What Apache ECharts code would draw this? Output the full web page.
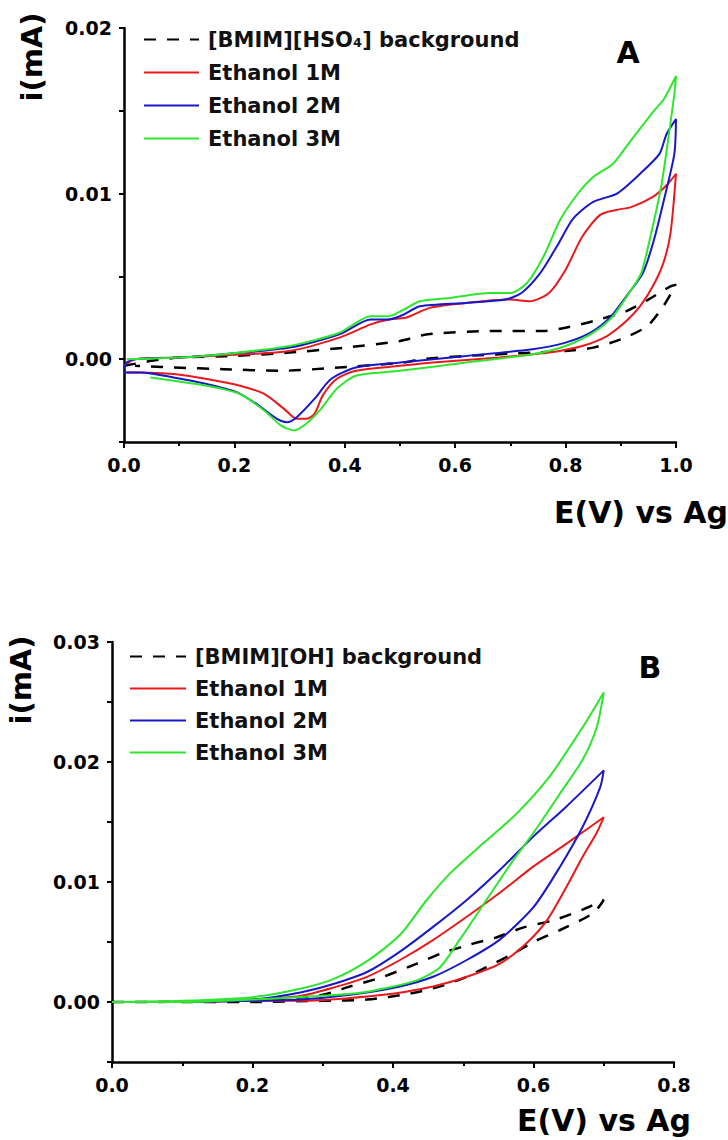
<!DOCTYPE html>
<html>
<head>
<meta charset="utf-8">
<script src="https://cdn.jsdelivr.net/npm/echarts/dist/echarts.min.js"></script>
<style>
  html, body { margin: 0; padding: 0; background: #fff; }
  #main { width: 728px; height: 1140px; }
</style>
</head>
<body>
<div id="main"></div>
<script>
// panel A : [BMIM][HSO4], E (V) vs i (mA), each array is one closed CV scan
var bgA = [[0.0,-0.0004],[0.05,-0.0001],[0.1,0.0001],[0.2,0.0002],[0.3,0.0004],[0.4,0.0007],[0.5,0.0011],[0.55,0.0015],
  [0.663,0.0017],[0.76,0.0017],[0.8,0.0019],[0.85,0.0023],[0.91,0.0029],[0.95,0.0036],[0.99,0.0044],[1.0,0.0045],
  [0.977,0.0032],[0.948,0.002],[0.9,0.0012],[0.85,0.0007],[0.8,0.0005],[0.74,0.0004],[0.62,0.0002],[0.54,0.0],
  [0.507,-0.0002],[0.39,-0.0005],[0.284,-0.0007],[0.18,-0.0006],[0.09,-0.0005],[0.02,-0.0004]];
var et1A = [[0.0,-0.0004],[0.02,0.0],[0.1,0.0001],[0.18,0.00024],[0.3,0.0005],[0.39,0.0013],[0.447,0.0021],[0.48,0.0024],
  [0.51,0.0025],[0.554,0.0031],[0.62,0.0034],[0.70,0.0036],[0.735,0.0035],[0.77,0.004],[0.80,0.0054],[0.83,0.0074],
  [0.862,0.0087],[0.89,0.009],[0.92,0.0092],[0.958,0.0098],[0.983,0.0105],[1.0,0.0112],
  [0.99,0.0076],[0.977,0.0058],[0.958,0.0044],[0.935,0.0032],[0.91,0.0023],[0.875,0.0014],[0.83,0.0008],[0.77,0.0004],
  [0.68,0.0001],[0.56,-0.0002],[0.5,-0.0004],[0.42,-0.0007],[0.385,-0.0012],[0.36,-0.0022],[0.345,-0.0033],
  [0.33,-0.0036],[0.313,-0.0036],[0.29,-0.003],[0.254,-0.0021],[0.21,-0.0016],[0.15,-0.0012],[0.09,-0.0009],
  [0.03,-0.0008],[0.005,-0.0008]];
var et2A = [[0.0,-0.0006],[0.005,-0.0002],[0.02,0.0],[0.1,0.0001],[0.18,0.0003],[0.30,0.0007],[0.39,0.0015],[0.447,0.0024],
  [0.48,0.0024],[0.507,0.0027],[0.536,0.0032],[0.62,0.0034],[0.69,0.0036],[0.72,0.004],[0.754,0.0052],[0.784,0.0068],
  [0.814,0.0085],[0.85,0.0095],[0.893,0.01],[0.935,0.0112],[0.97,0.0124],[0.983,0.0136],[1.0,0.0145],
  [0.997,0.0124],[0.978,0.0096],[0.96,0.0072],[0.94,0.0052],[0.91,0.0038],[0.88,0.0025],[0.845,0.0016],[0.80,0.001],
  [0.74,0.0006],[0.62,0.0002],[0.5,-0.0002],[0.42,-0.0005],[0.375,-0.0012],[0.345,-0.0024],[0.313,-0.0035],
  [0.295,-0.0038],[0.277,-0.0036],[0.24,-0.0027],[0.205,-0.002],[0.15,-0.0015],[0.09,-0.0011],[0.03,-0.0008],[0.0,-0.0008]];
var et3A = [[0.005,0.0],[0.1,0.0001],[0.18,0.0003],[0.30,0.0008],[0.39,0.0016],[0.447,0.0026],[0.48,0.0026],[0.507,0.003],
  [0.536,0.0035],[0.59,0.0037],[0.663,0.004],[0.70,0.004],[0.73,0.0046],[0.76,0.0062],[0.79,0.0084],[0.82,0.0099],
  [0.85,0.011],[0.886,0.0118],[0.918,0.0132],[0.96,0.015],[0.978,0.0157],[1.0,0.0171],
  [0.997,0.016],[0.983,0.0126],[0.973,0.0104],[0.955,0.0076],[0.937,0.0052],[0.917,0.0041],[0.886,0.0026],[0.85,0.0016],
  [0.80,0.0008],[0.74,0.0003],[0.62,-0.0002],[0.5,-0.0007],[0.42,-0.001],[0.385,-0.0018],[0.357,-0.003],[0.33,-0.0039],
  [0.308,-0.0043],[0.284,-0.004],[0.254,-0.0031],[0.21,-0.0021],[0.15,-0.0016],[0.09,-0.0013],[0.048,-0.0011]];

// panel B : [BMIM][OH]
var bgB = [[0.0,0.0],[0.2,0.0],[0.3,0.0001],[0.363,0.0002],[0.424,0.0007],[0.467,0.0013],[0.505,0.0021],[0.533,0.0029],
  [0.567,0.0039],[0.6,0.005],[0.638,0.006],[0.685,0.0074],[0.7,0.0085],
  [0.67,0.0077],[0.628,0.0068],[0.585,0.0062],[0.548,0.0054],[0.51,0.0048],[0.471,0.0041],[0.434,0.0032],
  [0.386,0.0021],[0.339,0.0013],[0.3,0.0006],[0.2,0.0001],[0.0,0.0]];
var et1B = [[0.0,0.0],[0.1,0.0],[0.2,0.0001],[0.268,0.0001],[0.386,0.0006],[0.457,0.0013],[0.505,0.0021],[0.552,0.0032],
  [0.59,0.0049],[0.619,0.0068],[0.647,0.0096],[0.67,0.0121],[0.69,0.0141],[0.7,0.0154],
  [0.647,0.0132],[0.6,0.0113],[0.552,0.0091],[0.505,0.0071],[0.458,0.0052],[0.41,0.0035],[0.363,0.0021],
  [0.315,0.0012],[0.268,0.0005],[0.2,0.0002],[0.1,0.0],[0.0,0.0]];
var et2B = [[0.0,0.0],[0.1,0.0],[0.2,0.0001],[0.268,0.0002],[0.339,0.0006],[0.41,0.0013],[0.457,0.0021],[0.505,0.0035],
  [0.552,0.0052],[0.6,0.0079],[0.638,0.0113],[0.67,0.0146],[0.695,0.0179],[0.7,0.0193],
  [0.647,0.0163],[0.6,0.0138],[0.552,0.011],[0.505,0.0085],[0.458,0.0063],[0.41,0.0042],[0.363,0.0025],
  [0.315,0.0015],[0.268,0.0008],[0.2,0.0002],[0.1,0.0],[0.0,0.0]];
var et3B = [[0.0,0.0],[0.1,0.0],[0.2,0.0002],[0.292,0.0005],[0.357,0.0008],[0.434,0.0018],[0.467,0.0029],[0.495,0.0052],
  [0.533,0.0085],[0.571,0.0118],[0.6,0.0141],[0.638,0.0174],[0.67,0.0202],[0.69,0.0229],[0.7,0.0258],
  [0.67,0.0229],[0.623,0.0188],[0.576,0.0157],[0.528,0.0132],[0.481,0.0107],[0.448,0.0085],[0.41,0.0056],
  [0.363,0.0034],[0.315,0.0019],[0.268,0.0011],[0.2,0.0004],[0.1,0.0001],[0.0,0.0]];

var namesA = ['[BMIM][HSO₄] background', 'Ethanol 1M', 'Ethanol 2M', 'Ethanol 3M'];
var namesB = ['[BMIM][OH] background', 'Ethanol 1M', 'Ethanol 2M', 'Ethanol 3M'];
var colors = ['#000000', '#e8191d', '#1818c8', '#2ee62e'];

var FONT = '"DejaVu Sans", Arial, sans-serif';

function xAxisOf(grid, max){
    return {
        type: 'value', gridIndex: grid, min: 0, max: max, interval: 0.2,
        axisLine: {onZero: false, lineStyle: {color: '#000', width: 2.5}},
        axisTick: {length: 6, lineStyle: {color: '#000', width: 2}},
        minorTick: {show: true, splitNumber: 2, length: 4, lineStyle: {color: '#000', width: 2}},
        splitLine: {show: false},
        axisLabel: {color: '#000', fontWeight: 'bold', fontSize: 19, fontFamily: FONT, margin: 13,
            formatter: function(v){ return v.toFixed(1); }}
    };
}
function yAxisOf(grid, max){
    return {
        type: 'value', gridIndex: grid, min: -0.005, max: max, interval: 0.005,
        axisLine: {onZero: false, lineStyle: {color: '#000', width: 2.5}},
        axisTick: {length: 5, lineStyle: {color: '#000', width: 2}},
        splitLine: {show: false},
        axisLabel: {color: '#000', fontWeight: 'bold', fontSize: 19, fontFamily: FONT, margin: 12,
            formatter: function(v){
                return Math.round(v * 1000) % 10 === 0 ? Math.abs(v).toFixed(2) : '';
            }}
    };
}
function lineOf(name, data, k, grid){
    return {
        name: name, type: 'line', xAxisIndex: grid, yAxisIndex: grid,
        data: data, symbol: 'none', smooth: 0.25, animation: false,
        lineStyle: {color: colors[k], width: k === 0 ? 2.5 : 2, type: k === 0 ? [12, 11] : 'solid'},
        itemStyle: {color: colors[k]}
    };
}
function legendOf(names, left, top, w, gap){
    return {
        orient: 'vertical', left: left, top: top, padding: 0,
        itemWidth: w, itemHeight: 14, itemGap: gap,
        data: names,
        itemStyle: {opacity: 0, color: 'transparent', borderWidth: 0},
        textStyle: {color: '#111', fontWeight: 'bold', fontSize: 21, fontFamily: FONT, lineHeight: 21, padding: [0, 0, 0, 4]}
    };
}
function label(text, x, y, size, rot){
    return {
        type: 'text', x: x, y: y, rotation: rot || 0,
        style: {text: text, fill: '#000', font: 'bold ' + size + 'px ' + FONT,
            align: 'center', verticalAlign: 'middle', textAlign: 'center', textVerticalAlign: 'middle'}
    };
}

var dataA = [bgA, et1A, et2A, et3A];
var dataB = [bgB, et1B, et2B, et3B];
var series = [];
for (var k = 0; k < 4; k++) series.push(lineOf(namesA[k], dataA[k], k, 0));
for (var k = 0; k < 4; k++) series.push(lineOf(namesB[k], dataB[k], k, 1));

var option = {
    animation: false,
    backgroundColor: '#fff',
    grid: [
        {left: 124, top: 28, width: 552, height: 414},
        {left: 112, top: 642, width: 562, height: 420}
    ],
    xAxis: [xAxisOf(0, 1.0), xAxisOf(1, 0.8)],
    yAxis: [yAxisOf(0, 0.02), yAxisOf(1, 0.03)],
    legend: [legendOf(namesA, 143, 29, 55, 12), legendOf(namesB, 129, 646, 56, 11)],
    graphic: [
        label('i(mA)', 32, 57, 29, Math.PI / 2),
        label('A', 628, 52, 30),
        label('E(V) vs Ag', 641, 512, 30),
        label('i(mA)', 21, 680, 29, Math.PI / 2),
        label('B', 650, 667, 30),
        label('E(V) vs Ag', 604, 1120, 30)
    ],
    series: series
};

var myChart = echarts.init(document.getElementById('main'), null, {renderer: 'svg'});
myChart.setOption(option);
</script>
</body>
</html>
